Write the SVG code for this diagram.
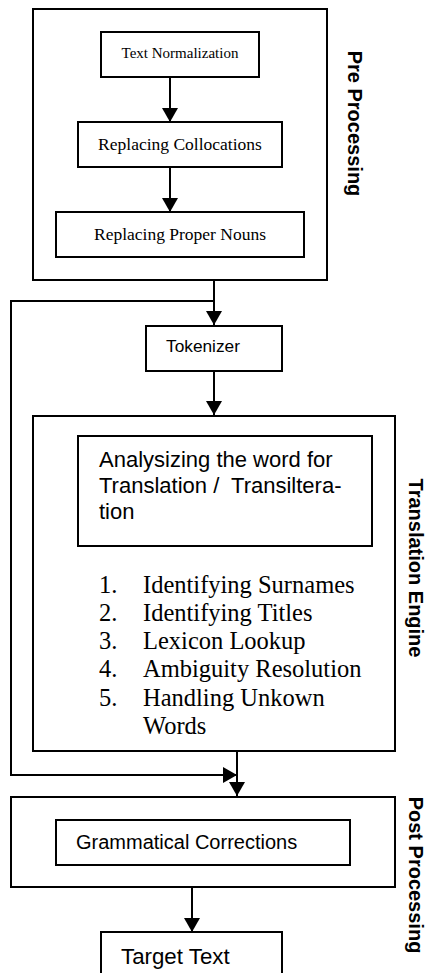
<svg xmlns="http://www.w3.org/2000/svg" width="426" height="973" viewBox="0 0 426 973">
<defs>
<style>
.box{fill:#fff;stroke:#000;stroke-width:2}
.frame{fill:none;stroke:#000;stroke-width:2}
.conn{fill:none;stroke:#000;stroke-width:2}
.serif{font-family:"Liberation Serif","Times New Roman",serif;fill:#000}
.sans{font-family:"Liberation Sans",Arial,sans-serif;fill:#000}
.lbl{font-family:"Liberation Sans",Arial,sans-serif;font-weight:bold;font-size:20px;fill:#000}
</style>
<marker id="ah" markerUnits="userSpaceOnUse" markerWidth="16" markerHeight="16" viewBox="0 0 14 16" refX="14" refY="8" orient="auto">
<path d="M0,0 L14,8 L0,16 Z" fill="#000"/>
</marker>
</defs>
<rect width="426" height="973" fill="#fff"/>

<g id="pre-processing">
<rect class="frame" x="33" y="9" width="294" height="271"/>
<text class="lbl" transform="translate(348,123.5) rotate(90)" text-anchor="middle">Pre Processing</text>
</g>
<g id="text-normalization">
<rect class="box" x="101" y="32" width="158" height="45"/>
<text class="serif" x="180" y="58" font-size="15" text-anchor="middle">Text Normalization</text>
</g>
<g id="replacing-collocations">
<rect class="box" x="78" y="122" width="204" height="45"/>
<text class="serif" x="180" y="150" font-size="17.5" text-anchor="middle">Replacing Collocations</text>
</g>
<g id="replacing-proper-nouns">
<rect class="box" x="56" y="212" width="248" height="45"/>
<text class="serif" x="180" y="240" font-size="17.5" text-anchor="middle">Replacing Proper Nouns</text>
</g>

<g id="tokenizer">
<rect class="box" x="146" y="326" width="136" height="45"/>
<text class="sans" x="166" y="352" font-size="17.3">Tokenizer</text>
</g>

<g id="translation-engine">
<rect class="frame" x="33" y="416" width="362" height="335"/>
<text class="lbl" transform="translate(409,568) rotate(90)" text-anchor="middle">Translation Engine</text>
<rect class="box" x="78" y="436" width="294" height="110"/>
<text class="sans" font-size="22" xml:space="preserve"><tspan x="99" y="467">Analysizing the word for</tspan><tspan x="99" y="493">Translation /  Transiltera-</tspan><tspan x="99" y="519">tion</tspan></text>
<text class="serif" font-size="24.5">
<tspan x="99" y="593">1.</tspan><tspan x="143" y="593">Identifying Surnames</tspan>
<tspan x="99" y="621">2.</tspan><tspan x="143" y="621">Identifying Titles</tspan>
<tspan x="99" y="649">3.</tspan><tspan x="143" y="649">Lexicon Lookup</tspan>
<tspan x="99" y="677">4.</tspan><tspan x="143" y="677">Ambiguity Resolution</tspan>
<tspan x="99" y="706">5.</tspan><tspan x="143" y="706">Handling Unkown</tspan>
<tspan x="143" y="734">Words</tspan>
</text>
</g>

<g id="post-processing">
<rect class="frame" x="11" y="797" width="384" height="90"/>
<text class="lbl" transform="translate(409,875) rotate(90)" text-anchor="middle">Post Processing</text>
<rect class="box" x="56" y="820" width="294" height="45"/>
<text class="sans" x="76" y="849" font-size="20">Grammatical Corrections</text>
</g>

<g id="target-text">
<rect class="box" x="101" y="932" width="181" height="60"/>
<text class="sans" x="121" y="964" font-size="22.3">Target Text</text>
</g>

<g id="connectors">
<line class="conn" x1="170" y1="77" x2="170" y2="122" marker-end="url(#ah)"/>
<line class="conn" x1="170" y1="167" x2="170" y2="212" marker-end="url(#ah)"/>
<line class="conn" x1="214" y1="280" x2="214" y2="325" marker-end="url(#ah)"/>
<polyline class="conn" points="214,301 11,301 11,775 237,775" marker-end="url(#ah)"/>
<line class="conn" x1="214" y1="371" x2="214" y2="415" marker-end="url(#ah)"/>
<line class="conn" x1="237" y1="751" x2="237" y2="796" marker-end="url(#ah)"/>
<line class="conn" x1="192" y1="887" x2="192" y2="932" marker-end="url(#ah)"/>
</g>
</svg>
